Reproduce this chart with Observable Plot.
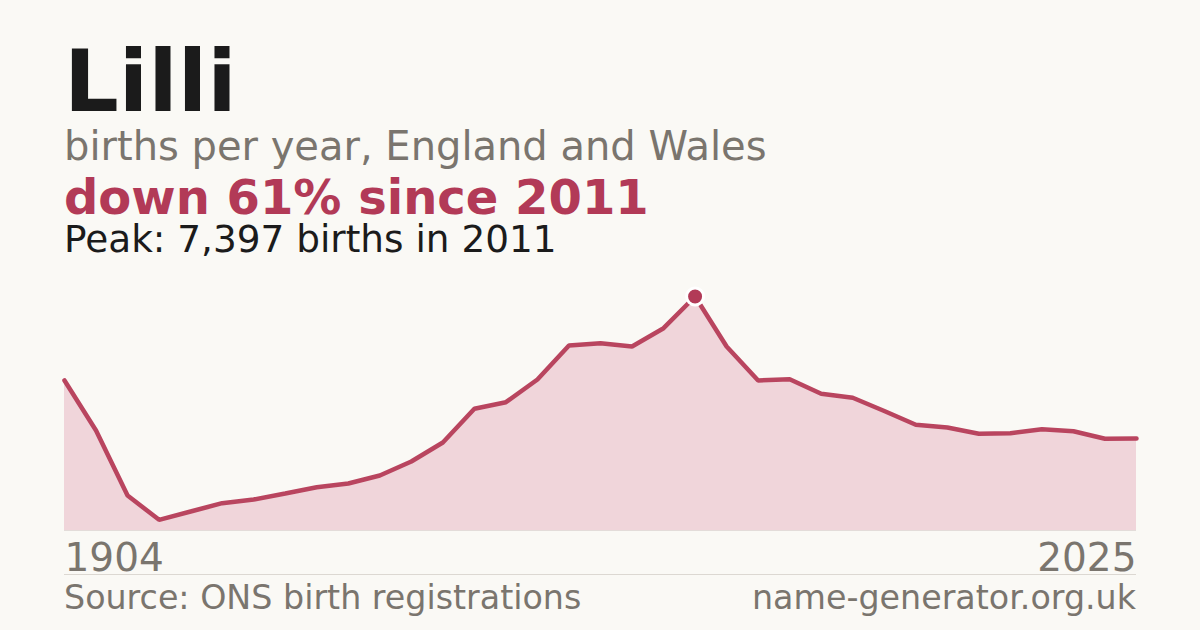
<!DOCTYPE html>
<html>
<head>
<meta charset="utf-8">
<script src="https://cdn.jsdelivr.net/npm/d3@7"></script>
<script src="https://cdn.jsdelivr.net/npm/@observablehq/plot@0.6"></script>
<style>
  html, body { margin: 0; padding: 0; background: #faf9f5; }
  body { width: 1200px; height: 630px; position: relative; overflow: hidden; font-family: "DejaVu Sans", sans-serif; }
  .t { position: absolute; left: 64px; white-space: nowrap; line-height: 0.9; }
  #title { top: 43px; font-size: 86px; font-weight: bold; color: #1b1b1b; }
  #sub { top: 127.5px; font-size: 40px; color: #7a756e; }
  #down { top: 176px; font-size: 48px; font-weight: bold; color: #b23a57; }
  #peak { top: 223px; font-size: 37.4px; color: #1b1b1b; }
  #chart { position: absolute; left: 0; top: 270px; }
  .foot { position: absolute; top: 582.5px; font-size: 33.3px; color: #7a756e; white-space: nowrap; line-height: 0.9; }
  #src { left: 64px; }
  #site { right: 64px; }
</style>
</head>
<body>
<div class="t" id="title">Lilli</div>
<div class="t" id="sub">births per year, England and Wales</div>
<div class="t" id="down">down 61% since 2011</div>
<div class="t" id="peak">Peak: 7,397 births in 2011</div>
<div id="chart"></div>
<div class="foot" id="src">Source: ONS birth registrations</div>
<div class="foot" id="site">name-generator.org.uk</div>
<script>
// Births per year (evenly spaced data points, first = 1904, last = 2025)
const births = [4742, 3161, 1106, 338, 600, 863, 980, 1170, 1369, 1486,
                1739, 2181, 2782, 3847, 4056, 4773, 5848, 5921, 5816, 6395,
                7397, 5816, 4742, 4783, 4321, 4195, 3777, 3341, 3256, 3057,
                3076, 3202, 3139, 2899, 2905];
const endYears = ["1904", "2025"];
const peakIndex = 20;

const data = births.map((v, i) => ({i, v}));
const peak = [data[peakIndex]];
const first = [{i: 0, label: endYears[0]}];
const last = [{i: births.length - 1, label: endYears[1]}];

const crimson = "#b23a57";

const chart = Plot.plot({
  width: 1200,
  height: 310,
  marginLeft: 64,
  marginRight: 64,
  marginTop: 26,
  marginBottom: 50,
  style: {background: "transparent", fontFamily: "DejaVu Sans, sans-serif", overflow: "visible"},
  x: {domain: [0, births.length - 1], axis: null},
  y: {domain: [0, d3.max(births)], axis: null},
  marks: [
    Plot.areaY(data, {x: "i", y: "v", fill: "#f0d5da"}),
    Plot.ruleY([0], {stroke: "#e3dcd9", strokeWidth: 1}),
    Plot.lineY(data, {x: "i", y: "v", stroke: "#b9455f", strokeWidth: 4.5, strokeLinejoin: "miter"}),
    Plot.dot(peak, {x: "i", y: "v", r: 8.5, fill: crimson, stroke: "white", strokeWidth: 3}),
    Plot.text(first, {x: "i", y: () => 0, text: "label", textAnchor: "start", lineAnchor: "bottom", dy: 40, fontSize: 39, fill: "#7a756e"}),
    Plot.text(last, {x: "i", y: () => 0, text: "label", textAnchor: "end", lineAnchor: "bottom", dy: 40, fontSize: 39, fill: "#7a756e"}),
    Plot.ruleY([0], {dy: 44, stroke: "#dcd8d2", strokeWidth: 1})
  ]
});
document.getElementById("chart").appendChild(chart);
</script>
</body>
</html>
